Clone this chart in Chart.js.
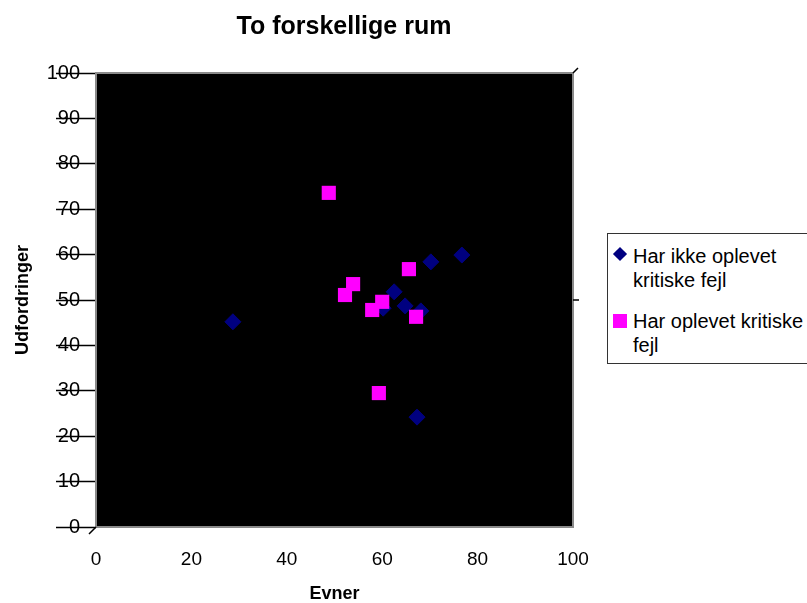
<!DOCTYPE html>
<html lang="da">
<head>
  <meta charset="UTF-8" />
  <title>To forskellige rum</title>
  <script src="https://cdn.jsdelivr.net/npm/chart.js"></script>
  <style>
    * {
      box-sizing: border-box;
      margin: 0;
      padding: 0;
      font-family: 'Liberation Sans', Arial, sans-serif;
    }

    body {
      background: white;
      width: 807px;
      height: 603px;
      overflow: hidden;
      position: relative;
    }

    .chart-wrap {
      position: absolute;
      left: 0;
      top: 0;
      width: 807px;
      height: 603px;
    }

    .title {
      position: absolute;
      left: 194px;
      top: 10px;
      width: 300px;
      text-align: center;
      font-size: 25px;
      line-height: 30px;
      font-weight: bold;
      color: black;
    }

    .legend {
      position: absolute;
      left: 607px;
      top: 233px;
      width: 230px;
      height: 131px;
      border: 1px solid #333;
      background: white;
    }

    .legend-item {
      position: absolute;
      left: 0;
      width: 210px;
      font-size: 20px;
      line-height: 24px;
      color: black;
    }

    .legend-item .txt {
      position: absolute;
      left: 25px;
      width: 174px;
    }

    .marker {
      position: absolute;
    }

    .diamond {
      left: 7px;
      top: 5px;
      width: 10px;
      height: 10px;
      background: #000080;
      transform: rotate(45deg);
    }

    .square {
      left: 5px;
      top: 5px;
      width: 14px;
      height: 14px;
      background: #ff00ff;
    }
  </style>
</head>
<body>
  <div class="chart-wrap">
    <canvas id="rumChart" width="807" height="603"></canvas>
  </div>

  <div class="title" id="titel"></div>

  <div class="legend">
    <div class="legend-item" style="top: 10px;">
      <span class="marker diamond"></span>
      <span class="txt" id="lbl0"></span>
    </div>
    <div class="legend-item" style="top: 75px;">
      <span class="marker square"></span>
      <span class="txt" id="lbl1"></span>
    </div>
  </div>

<script>
  // data
  const titel = 'To forskellige rum';
  const serieNavne = ['Har ikke oplevet kritiske fejl', 'Har oplevet kritiske fejl'];

  const ikkeFejlEvner = [28.7, 76.7, 70.2, 62.5, 64.8, 68.1, 67.3, 60.2];
  const ikkeFejlUdf   = [45.2, 59.9, 58.4, 51.8, 48.7, 47.6, 24.2, 48.2];

  const fejlEvner = [48.8, 65.6, 53.9, 52.2, 60.0, 57.9, 67.1, 59.3];
  const fejlUdf   = [73.6, 56.8, 53.5, 51.1, 49.6, 47.8, 46.3, 29.5];

  const xTicks = [0, 20, 40, 60, 80, 100];
  const yTicks = [0, 10, 20, 30, 40, 50, 60, 70, 80, 90, 100];

  const toPoints = (xs, ys) => xs.map((x, i) => ({ x: x, y: ys[i] }));

  document.getElementById('titel').textContent = titel;
  document.getElementById('lbl0').textContent = serieNavne[0];
  document.getElementById('lbl1').textContent = serieNavne[1];

  // black plot area with grey frame and the little corner strokes
  const plotArea = {
    id: 'plotArea',
    beforeDraw(chart) {
      const { ctx, chartArea: a } = chart;
      ctx.save();
      ctx.fillStyle = 'black';
      ctx.fillRect(a.left, a.top, a.right - a.left, a.bottom - a.top);
      ctx.restore();
    },
    afterDraw(chart) {
      const { ctx, chartArea: a, scales } = chart;
      ctx.save();
      ctx.strokeStyle = '#8a8a8a';
      ctx.lineWidth = 2;
      ctx.strokeRect(a.left, a.top, a.right - a.left, a.bottom - a.top);
      ctx.strokeStyle = 'black';
      ctx.lineWidth = 1.5;
      ctx.beginPath();
      ctx.moveTo(a.left, a.bottom);
      ctx.lineTo(a.left - 7, a.bottom + 7);
      ctx.moveTo(a.right, a.top);
      ctx.lineTo(a.right + 5, a.top - 5);
      const y50 = scales.y.getPixelForValue(50);
      ctx.moveTo(a.right, y50);
      ctx.lineTo(a.right + 6, y50);
      ctx.stroke();
      ctx.restore();
    }
  };

  const fontFam = "'Liberation Sans', Arial, sans-serif";

  const ctx = document.getElementById('rumChart').getContext('2d');
  new Chart(ctx, {
    type: 'scatter',
    data: {
      datasets: [
        {
          label: serieNavne[0],
          data: toPoints(ikkeFejlEvner, ikkeFejlUdf),
          pointStyle: 'rectRot',
          pointRadius: 8,
          pointHoverRadius: 8,
          backgroundColor: '#000080',
          borderColor: '#000080',
          borderWidth: 1,
          order: 1
        },
        {
          label: serieNavne[1],
          data: toPoints(fejlEvner, fejlUdf),
          pointStyle: 'rect',
          pointRadius: 10,
          pointHoverRadius: 10,
          backgroundColor: '#ff00ff',
          borderColor: '#ff00ff',
          borderWidth: 0,
          order: 0
        }
      ]
    },
    options: {
      responsive: false,
      animation: false,
      layout: {
        padding: { left: 0, top: 73, right: 234, bottom: 0 }
      },
      plugins: {
        legend: { display: false },
        tooltip: { enabled: false },
        title: { display: false }
      },
      scales: {
        x: {
          type: 'linear',
          min: 0,
          max: 100,
          afterBuildTicks(scale) {
            scale.ticks = xTicks.map(v => ({ value: v }));
          },
          afterFit(scale) {
            scale.height = 76;
          },
          grid: { display: false },
          border: { display: false },
          ticks: {
            color: 'black',
            padding: 13,
            maxRotation: 0,
            font: { family: fontFam, size: 19 }
          },
          title: {
            display: true,
            text: 'Evner',
            color: 'black',
            padding: { top: 0, bottom: 0 },
            font: { family: fontFam, size: 18, weight: 'bold', lineHeight: 1.0 }
          }
        },
        y: {
          type: 'linear',
          min: 0,
          max: 100,
          afterBuildTicks(scale) {
            scale.ticks = yTicks.map(v => ({ value: v }));
          },
          afterFit(scale) {
            scale.width = 96;
          },
          grid: {
            drawOnChartArea: false,
            drawTicks: true,
            tickLength: 40,
            tickColor: 'black',
            tickWidth: 1.5
          },
          border: { display: false },
          ticks: {
            color: 'black',
            padding: -24,
            font: { family: fontFam, size: 20 }
          },
          title: {
            display: true,
            text: 'Udfordringer',
            color: 'black',
            padding: { top: 12, bottom: 0 },
            font: { family: fontFam, size: 18, weight: 'bold' }
          }
        }
      }
    },
    plugins: [plotArea]
  });
</script>
</body>
</html>
